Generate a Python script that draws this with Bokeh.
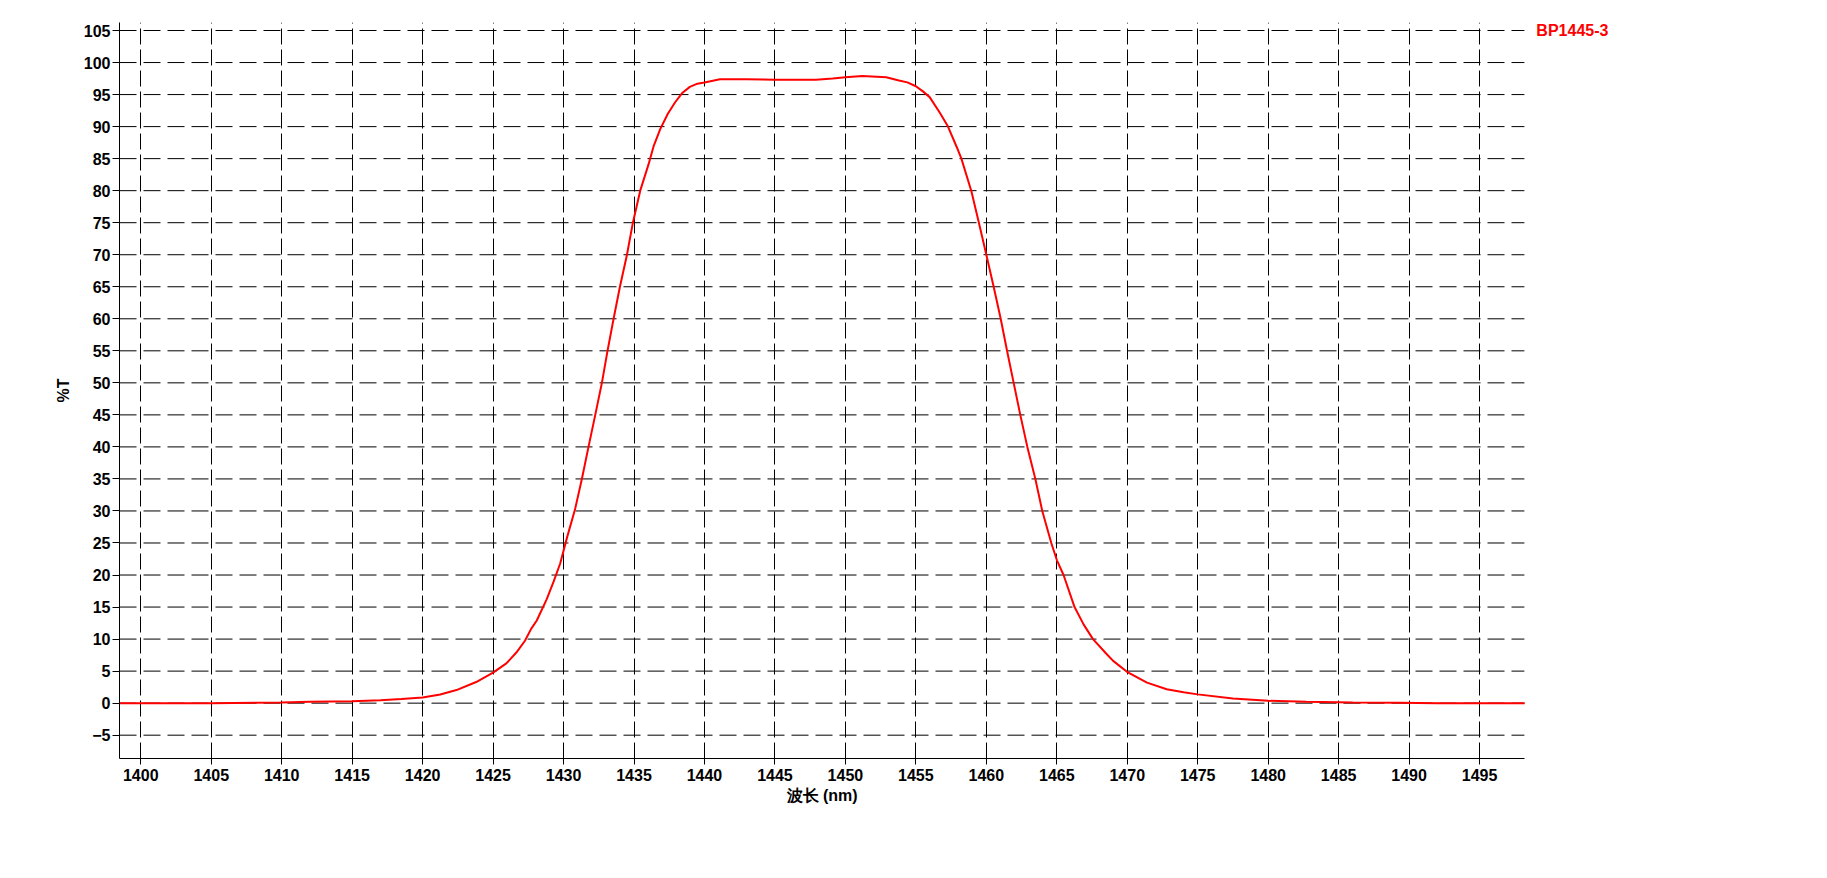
from bokeh.plotting import figure
from bokeh.models import Range1d, FixedTicker, Label, Title
from bokeh.embed import file_html
from bokeh.resources import INLINE

# Data
wavelength_nm = [1398.5, 1400, 1405, 1410, 1412, 1415, 1417, 1418.5, 1420, 1421.25,
                 1422.4, 1423.8, 1425, 1425.94, 1426.65, 1427.25, 1427.7, 1428.1, 1428.8, 1429.3,
                 1429.76, 1430.24, 1430.83, 1431.3, 1431.77, 1432.25, 1432.72, 1433.12, 1433.55, 1434.0,
                 1434.5, 1434.92, 1435.44, 1436.03, 1436.4, 1436.86, 1437.4, 1437.92, 1438.4, 1438.96,
                 1439.5, 1440, 1441.1, 1443, 1445, 1447.9, 1449.1, 1450, 1451.2, 1452.9,
                 1453.8, 1454.4, 1455, 1455.5, 1455.98, 1456.69, 1457.28, 1457.92, 1458.23, 1458.94,
                 1459.48, 1460, 1460.52, 1461.02, 1461.47, 1461.94, 1462.41, 1462.91, 1463.48, 1463.97,
                 1464.61, 1465.01, 1465.48, 1466.26, 1466.9, 1467.57, 1468.5, 1469.0, 1469.98, 1471.4,
                 1472.8, 1474, 1475, 1477.5, 1480, 1482.7, 1486, 1489.3, 1492, 1498.2]
transmittance = [0.0, 0.0, 0.0, 0.1, 0.2, 0.3, 0.45, 0.63, 0.88, 1.36,
                 2.04, 3.3, 4.76, 6.2, 7.9, 9.7, 11.6, 12.9, 16.2, 19.0,
                 21.8, 25.8, 30.4, 35, 40, 45, 50, 55, 60, 65,
                 70, 75, 80, 84.1, 87.0, 89.6, 92.0, 93.8, 95.2, 96.2,
                 96.7, 96.9, 97.4, 97.4, 97.3, 97.3, 97.5, 97.7, 97.9, 97.7,
                 97.2, 96.9, 96.3, 95.5, 94.6, 92.2, 90, 86.7, 85, 79.9,
                 74.9, 70, 65, 60, 55, 50, 45, 40, 35, 30,
                 25, 22.3, 20, 15, 12.3, 10, 7.75, 6.6, 4.9, 3.2,
                 2.16, 1.7, 1.37, 0.74, 0.37, 0.21, 0.1, 0.05, 0.0, 0.0]
series_name = "BP1445-3"
x_ticks = list(range(1400, 1500, 5))
y_ticks = list(range(-5, 110, 5))
x_label = "波长 (nm)"
y_label = "%T"

# axis extents of the chart area
x_min, x_max = 1398.49, 1498.18
y_min, y_max = -8.64, 106.25

FONT = "Liberation Sans"

# the frame is widened to the right so that the series label (which sits
# outside the axes area) is not clipped; grid and axis stop at x_max
p = figure(width=1808, height=858, output_backend="svg", toolbar_location=None,
           x_range=Range1d(x_min, 1506.42), y_range=Range1d(y_min, y_max),
           min_border_left=119, min_border_right=168, min_border_top=22, min_border_bottom=100)
p.outline_line_color = None
p.background_fill_color = "white"
p.border_fill_color = "white"

# horizontal dashed grid lines limited to the axes area
n = len(y_ticks)
p.segment(x0=[x_min] * n, y0=y_ticks, x1=[x_max] * n, y1=y_ticks,
          line_color="black", line_width=1, line_dash="17 7", level="underlay")
p.ygrid.visible = False

curve = p.line(wavelength_nm, transmittance, line_color="#ff0000", line_width=2)

for ax in (p.xaxis[0], p.yaxis[0]):
    ax.axis_line_color = "black"
    ax.axis_line_width = 1
    ax.major_tick_line_color = "black"
    ax.minor_tick_line_color = None
    ax.major_tick_in = 0
    ax.major_label_text_font = FONT
    ax.major_label_text_font_style = "bold"
    ax.major_label_text_font_size = "16px"
    ax.major_label_text_color = "black"
    ax.axis_label_text_font = FONT
    ax.axis_label_text_font_style = "bold"
    ax.axis_label_text_font_size = "16px"
    ax.axis_label_text_color = "black"

p.xaxis.bounds = (x_min, x_max)
p.xaxis.ticker = FixedTicker(ticks=x_ticks)
p.yaxis.ticker = FixedTicker(ticks=y_ticks)
p.xaxis.major_tick_out = 6
p.yaxis.major_tick_out = 7
p.xaxis.major_label_standoff = 4
p.yaxis.major_label_standoff = 2
p.yaxis.axis_label = y_label
p.yaxis.axis_label_standoff = 9

# x-axis title, centred under the axes area (not the widened frame)
p.add_layout(Title(text=x_label, align="left", offset=667, standoff=7,
                   vertical_align="top", text_font=FONT, text_font_style="bold",
                   text_font_size="16px", text_color="black"), "below")

p.xgrid.ticker = FixedTicker(ticks=x_ticks)
p.xgrid.grid_line_color = "black"
p.xgrid.grid_line_width = 1
p.xgrid.grid_line_dash = "16 5"

p.add_layout(Label(x=x_max + 0.85, y=105, text=series_name, text_color="#ff0000",
                   text_font=FONT, text_font_style="bold", text_font_size="16px",
                   text_align="left", text_baseline="middle"))

open("out.html", "w").write(file_html(p, INLINE))
